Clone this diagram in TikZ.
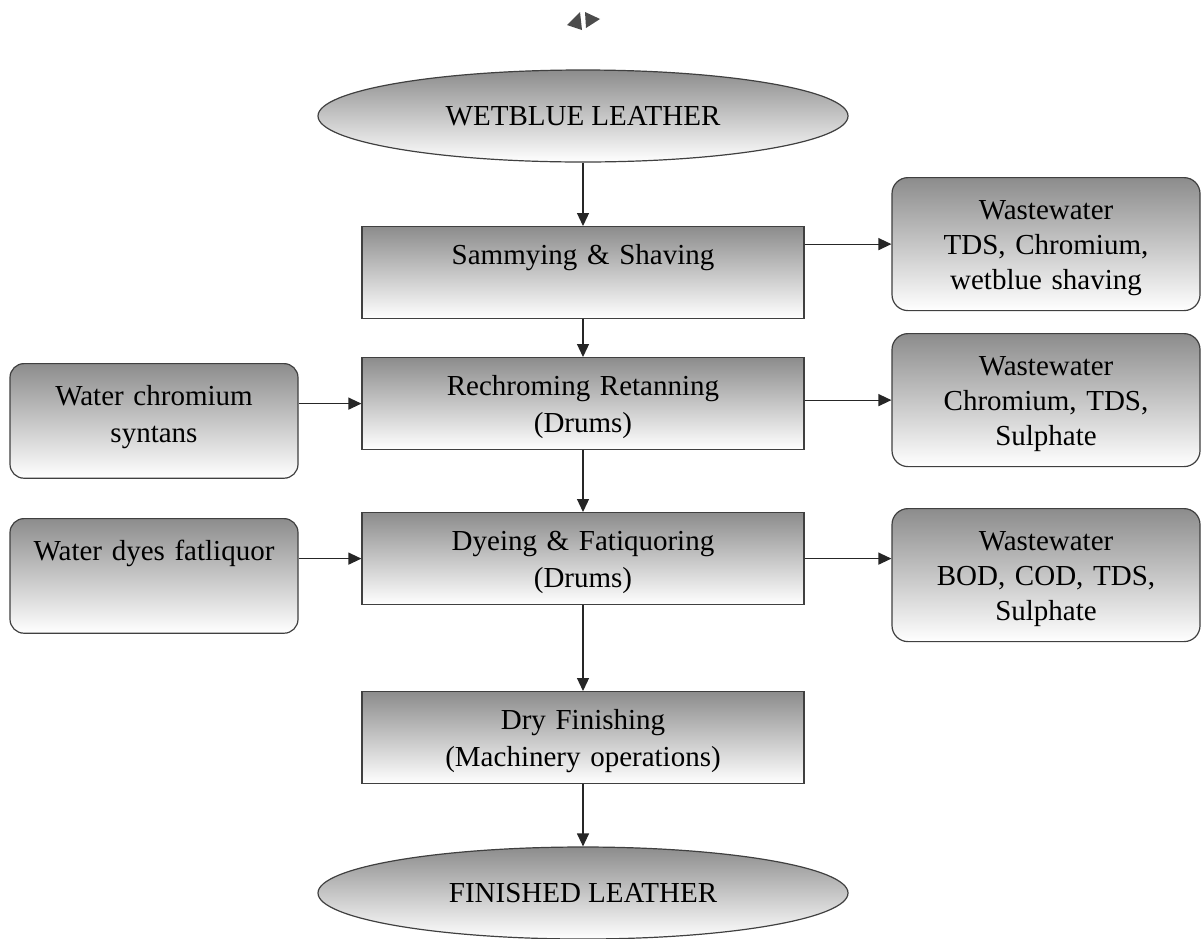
\documentclass[tikz,border=0pt]{standalone}
\usepackage{fontspec}
\setmainfont{Liberation Serif}
\usetikzlibrary{shapes.geometric,arrows.meta}

\begin{document}
\begin{tikzpicture}[x=0.5pt, y=-0.5pt,
    every node/.style={font=\fontsize{14.5}{18.5}\selectfont},
    greyfill/.style={top color=black!45, bottom color=white, draw=black!75, line width=0.6pt},
    leather/.style={ellipse, greyfill, minimum width=265pt, minimum height=46pt, inner sep=0pt},
    process/.style={rectangle, greyfill, text width=221pt, align=center, inner sep=0pt,
      text height=19pt, text depth=27pt, anchor=north},
    input/.style={rectangle, rounded corners=7pt, greyfill, text width=144pt, align=center,
      inner sep=0pt, text height=20.8pt, text depth=36.5pt, anchor=north},
    waste/.style={rectangle, rounded corners=8pt, greyfill, text width=154pt, align=center,
      inner sep=0pt, text height=21pt, text depth=45.5pt, anchor=north,
      font=\fontsize{14.5}{17.5}\selectfont},
    flow/.style={draw=black!85, line width=0.6pt, -{Triangle[length=6.5pt,width=6pt]}}]
   \path[use as bounding box, fill=white] (0,0) rectangle (1202,938);
   \fill[black!70] (567,25) -- (580,12) -- (582,30) -- cycle;
   \fill[black!70] (585,12) -- (600,19) -- (586,28) -- cycle;
   \node[leather] (wetblue) at (583,116) {WETBLUE LEATHER};
   \node[process] (sammy) at (583,226) {Sammying \& Shaving};
   \node[process] (retan) at (583,357) {Rechroming Retanning\\(Drums)};
   \node[process] (dye) at (583,512) {Dyeing \& Fatiquoring\\(Drums)};
   \node[process] (dry) at (583,691) {Dry Finishing\\(Machinery operations)};
   \node[leather] (finished) at (583,893) {FINISHED LEATHER};
   \node[input] (chrome) at (154,363) {Water chromium\\syntans};
   \node[input] (dyes) at (154,518) {Water dyes fatliquor};
   \node[waste] (wasteA) at (1046,177) {Wastewater\\TDS, Chromium,\\wetblue shaving};
   \node[waste] (wasteB) at (1046,333) {Wastewater\\Chromium, TDS,\\Sulphate};
   \node[waste] (wasteC) at (1046,508) {Wastewater\\BOD, COD, TDS,\\Sulphate};
   \draw[flow] (wetblue) -- (sammy);
   \draw[flow] (sammy) -- (retan);
   \draw[flow] (retan) -- (dye);
   \draw[flow] (dye) -- (dry);
   \draw[flow] (dry) -- (finished);
   \draw[flow] (sammy.east |- wasteA.west) -- (wasteA.west);
   \draw[flow] (retan.east |- wasteB.west) -- (wasteB.west);
   \draw[flow] (dye.east) -- (dye.east -| wasteC.west);
   \draw[flow] (chrome.east |- retan.west) -- (retan.west);
   \draw[flow] (dyes.east |- dye.west) -- (dye.west);
\end{tikzpicture}
\end{document}
